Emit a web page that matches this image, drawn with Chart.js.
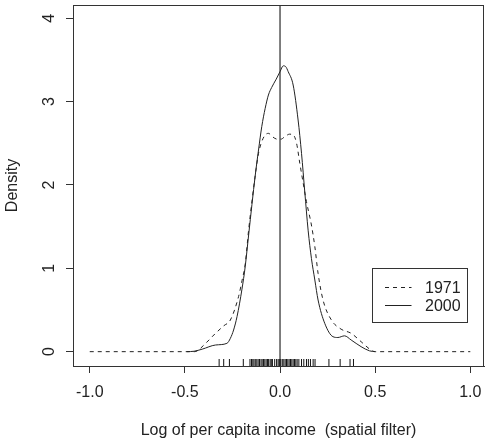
<!DOCTYPE html>
<html>
<head>
<meta charset="utf-8">
<script src="https://cdn.jsdelivr.net/npm/chart.js@4.4.1/dist/chart.umd.min.js"></script>
<style>
  html, body { margin: 0; padding: 0; background: #ffffff; }
  #c { display: block; }
</style>
</head>
<body>
<canvas id="c" width="489" height="444"></canvas>
<script>
// ---- data ----
const xTickValues = [-1.0, -0.5, 0.0, 0.5, 1.0];
const yTickValues = [0, 1, 2, 3, 4];

const seriesLabels = ['1971', '2000'];

const income1971 = [-1.0, -0.45, -0.435, -0.391, -0.339, -0.296, -0.261, -0.218, -0.2, -0.183, -0.165,
  -0.13, -0.113, -0.096, -0.078, -0.061, -0.04, -0.015, 0.005, 0.025, 0.05, 0.07, 0.087, 0.104,
  0.122, 0.139, 0.165, 0.183, 0.2, 0.226, 0.27, 0.321, 0.374, 0.426, 0.478, 0.5, 1.0];
const density1971 = [0, 0, 0.01, 0.10, 0.22, 0.31, 0.38, 0.66, 0.85, 1.05, 1.46,
  2.12, 2.38, 2.52, 2.60, 2.62, 2.58, 2.55, 2.55, 2.58, 2.61, 2.60, 2.50, 2.26,
  2.02, 1.80, 1.52, 1.26, 0.94, 0.62, 0.38, 0.27, 0.22, 0.12, 0.02, 0, 0];

const income2000 = [-0.49, -0.452, -0.409, -0.339, -0.279, -0.261, -0.244, -0.226, -0.2, -0.183, -0.165,
  -0.13, -0.113, -0.096, -0.078, -0.061, -0.044, -0.02, 0.0, 0.017, 0.03, 0.043, 0.069, 0.095,
  0.113, 0.13, 0.148, 0.165, 0.183, 0.2, 0.235, 0.278, 0.304, 0.339, 0.374, 0.426, 0.47, 0.5];
const density2000 = [0, 0.005, 0.03, 0.08, 0.10, 0.16, 0.26, 0.42, 0.75, 1.02, 1.40,
  2.12, 2.42, 2.70, 2.92, 3.08, 3.17, 3.27, 3.36, 3.43, 3.42, 3.36, 3.20, 2.78,
  2.38, 1.92, 1.45, 1.12, 0.86, 0.62, 0.34, 0.18, 0.17, 0.19, 0.14, 0.06, 0.01, 0];

const rugValues = [-0.320, -0.296, -0.266, -0.193, -0.158, -0.150, -0.143, -0.137, -0.130, -0.122,
  -0.115, -0.108, -0.100, -0.094, -0.087, -0.080, -0.073, -0.066, -0.060, -0.052, -0.046, -0.040,
  -0.028, -0.018, -0.010, -0.004, 0.004, 0.012, 0.020, 0.027, 0.034, 0.041, 0.048, 0.055, 0.062,
  0.069, 0.076, 0.083, 0.090, 0.099, 0.113, 0.125, 0.139, 0.149, 0.160, 0.174, 0.184, 0.257,
  0.316, 0.368, 0.386];

const referenceLineX = [0];

// ---- chart ----
const X_MIN = -1.088, X_MAX = 1.072, Y_MIN = -0.172, Y_MAX = 4.16;
const RUG_LEVEL = -0.13;
const FONT = 'Liberation Sans, Arial, Helvetica, sans-serif';
const INK = '#222222';

function pairs(xs, ys) { return xs.map((x, i) => ({ x: x, y: ys[i] })); }

const boxPlugin = {
  id: 'plotBox',
  afterDraw(chart) {
    const { ctx, chartArea: a } = chart;
    ctx.save();
    ctx.strokeStyle = '#333333';
    ctx.lineWidth = 1;
    ctx.strokeRect(a.left + 0.5, a.top + 0.5, a.right - a.left - 1, a.bottom - a.top);
    ctx.restore();
  }
};

const legendPlugin = {
  id: 'rLegend',
  afterDraw(chart) {
    const { ctx, chartArea: a } = chart;
    const bx = a.right - 111.5, by = a.top + 263.5, bw = 95, bh = 54;
    ctx.save();
    ctx.fillStyle = '#ffffff';
    ctx.fillRect(bx, by, bw, bh);
    ctx.strokeStyle = '#333333';
    ctx.lineWidth = 1;
    ctx.strokeRect(bx, by, bw, bh);
    [0, 1].forEach((di, i) => {
      const ds = chart.data.datasets[di];
      const yy = by + 19 + i * 18;
      ctx.beginPath();
      ctx.setLineDash(ds.borderDash || []);
      ctx.strokeStyle = ds.borderColor;
      ctx.lineWidth = 1;
      ctx.moveTo(bx + 12.5, yy);
      ctx.lineTo(bx + 39, yy);
      ctx.stroke();
      ctx.setLineDash([]);
      ctx.fillStyle = INK;
      ctx.font = '16px ' + FONT;
      ctx.textAlign = 'left';
      ctx.textBaseline = 'middle';
      ctx.fillText(ds.label, bx + 52.5, yy + 1);
    });
    ctx.restore();
  }
};

new Chart(document.getElementById('c'), {
  type: 'scatter',
  data: {
    datasets: [
      {
        label: seriesLabels[0],
        data: pairs(income1971, density1971),
        showLine: true,
        borderColor: '#222222',
        borderWidth: 1,
        borderDash: [4, 4],
        pointRadius: 0,
        cubicInterpolationMode: 'monotone',
        fill: false
      },
      {
        label: seriesLabels[1],
        data: pairs(income2000, density2000),
        showLine: true,
        borderColor: '#222222',
        borderWidth: 1,
        pointRadius: 0,
        cubicInterpolationMode: 'monotone',
        fill: false
      },
      {
        label: 'zero',
        data: referenceLineX.flatMap(v => [{ x: v, y: Y_MIN }, { x: v, y: Y_MAX }]),
        showLine: true,
        borderColor: '#000000',
        borderWidth: 1,
        pointRadius: 0
      },
      {
        label: 'rug',
        data: rugValues.map(v => ({ x: v, y: RUG_LEVEL })),
        showLine: false,
        pointStyle: 'line',
        rotation: 90,
        pointRadius: 3.5,
        borderColor: '#111111',
        borderWidth: 1
      }
    ]
  },
  options: {
    responsive: false,
    devicePixelRatio: 1,
    animation: false,
    events: [],
    layout: { padding: { top: 5, right: 0, left: 0, bottom: 0 } },
    plugins: { legend: { display: false }, tooltip: { enabled: false } },
    scales: {
      x: {
        type: 'linear',
        min: X_MIN,
        max: X_MAX,
        afterBuildTicks: (s) => { s.ticks = xTickValues.map(v => ({ value: v })); },
        afterFit: (s) => { s.height = 78; s.paddingLeft = 0; s.paddingRight = 0; s.paddingTop = 0; s.paddingBottom = 0; },
        grid: { drawOnChartArea: false, drawTicks: true, tickLength: 7, color: '#333333' },
        border: { display: true, color: '#333333' },
        ticks: {
          autoSkip: false,
          maxRotation: 0,
          padding: 10,
          color: INK,
          font: { family: FONT, size: 16 },
          callback: (v) => Number(v).toFixed(1)
        },
        title: {
          display: true,
          text: 'Log of per capita income  (spatial filter)',
          color: INK,
          font: { family: FONT, size: 16 },
          padding: { top: 0, bottom: 4 }
        }
      },
      y: {
        type: 'linear',
        min: Y_MIN,
        max: Y_MAX,
        afterBuildTicks: (s) => { s.ticks = yTickValues.map(v => ({ value: v })); },
        afterFit: (s) => { s.width = 73; s.paddingLeft = 0; s.paddingRight = 0; s.paddingTop = 0; s.paddingBottom = 0; },
        grid: { drawOnChartArea: false, drawTicks: true, tickLength: 7, color: '#333333' },
        border: { display: true, color: '#333333' },
        ticks: {
          autoSkip: false,
          minRotation: 90,
          maxRotation: 90,
          crossAlign: 'center',
          padding: 12,
          color: INK,
          font: { family: FONT, size: 16 },
          callback: (v) => String(v)
        },
        title: {
          display: true,
          text: 'Density',
          color: INK,
          font: { family: FONT, size: 16 },
          padding: { top: 3, bottom: 0 }
        }
      }
    }
  },
  plugins: [boxPlugin, legendPlugin]
});
</script>
</body>
</html>
